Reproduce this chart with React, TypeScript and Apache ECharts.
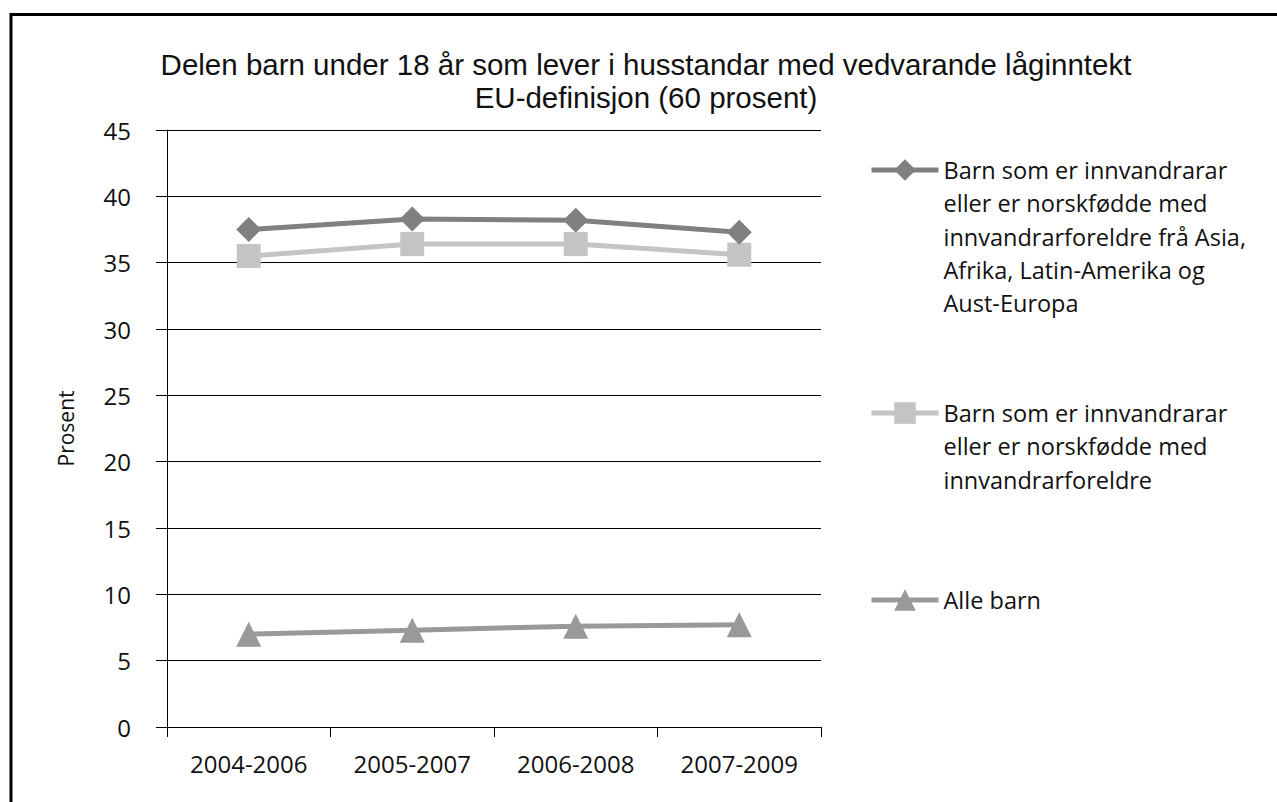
import React, { useEffect, useRef } from "react";
import * as echarts from "echarts";

const categories = ["2004-2006", "2005-2007", "2006-2008", "2007-2009"];
const seriesNames = [
  "Barn som er innvandrarar\neller er norskfødde med\ninnvandrarforeldre frå Asia,\nAfrika, Latin-Amerika og\nAust-Europa",
  "Barn som er innvandrarar\neller er norskfødde med\ninnvandrarforeldre",
  "Alle barn",
];
const asiaAfrikaValues = [37.5, 38.3, 38.2, 37.3];
const innvandrarValues = [35.5, 36.4, 36.4, 35.6];
const alleBarnValues = [7.0, 7.3, 7.6, 7.7];
const yTicks = [0, 5, 10, 15, 20, 25, 30, 35, 40, 45];

const FONT = "Open Sans";

export default function App() {
  const ref = useRef<HTMLDivElement>(null);
  useEffect(() => {
    if (!ref.current) return;
    const chart = echarts.init(ref.current, undefined, { renderer: "svg" });
    const lh = 33.3;
    const mkLegend = (name: string, firstLineY: number) => {
      const n = name.split("\n").length;
      const total = (2 * n - 1) * lh;
      return {
        data: [name],
        orient: "vertical",
        left: 869,
        top: firstLineY - total / 2,
        padding: 0,
        itemWidth: 67,
        itemHeight: 27,
        itemGap: 0,
        formatter: (nm: string) => "\n".repeat(nm.split("\n").length - 1) + nm,
        lineStyle: { width: 5 },
        textStyle: {
          fontFamily: FONT,
          fontSize: 23.5,
          color: "#111",
          lineHeight: lh,
        },
      };
    };
    chart.setOption({
      animation: false,
      backgroundColor: "#fff",
      title: {
        text: "Delen barn under 18 år som lever i husstandar med vedvarande låginntekt\nEU-definisjon (60 prosent)",
        left: 641,
        textAlign: "center",
        top: 43,
        textStyle: {
          fontFamily: "Liberation Sans",
          fontSize: 29.5,
          fontWeight: "normal",
          color: "#111",
          lineHeight: 33,
        },
      },
      legend: [
        mkLegend(seriesNames[0], 170),
        mkLegend(seriesNames[1], 413),
        mkLegend(seriesNames[2], 600),
      ],
      graphic: [
        {
          type: "rect",
          shape: { x: 11, y: 14.5, width: 1400, height: 1000 },
          style: { fill: "none", stroke: "#000", lineWidth: 3 },
          silent: true,
          z: 100,
        },
      ],
      grid: { left: 167, right: 456, top: 130, bottom: 75 },
      xAxis: {
        type: "category",
        data: categories,
        boundaryGap: true,
        axisLine: { lineStyle: { color: "#000", width: 1 } },
        axisTick: { show: true, length: 10, lineStyle: { color: "#000" } },
        axisLabel: { fontFamily: FONT, fontSize: 24, color: "#111", margin: 24 },
        splitLine: { show: false },
      },
      yAxis: {
        type: "value",
        min: yTicks[0],
        max: yTicks[yTicks.length - 1],
        interval: 5,
        name: "Prosent",
        nameLocation: "middle",
        nameGap: 91,
        nameRotate: 90,
        nameTextStyle: { fontFamily: FONT, fontSize: 21, color: "#111" },
        axisLine: { show: true, lineStyle: { color: "#000", width: 1 } },
        axisTick: { show: true, length: 11, lineStyle: { color: "#000" } },
        axisLabel: { fontFamily: FONT, fontSize: 24, color: "#111", margin: 36 },
        splitLine: { show: true, lineStyle: { color: "#000", width: 1 } },
      },
      series: [
        {
          name: seriesNames[0],
          type: "line",
          data: asiaAfrikaValues,
          symbol: "diamond",
          symbolSize: 25,
          lineStyle: { color: "#808080", width: 5 },
          itemStyle: { color: "#808080" },
          z: 3,
        },
        {
          name: seriesNames[1],
          type: "line",
          data: innvandrarValues,
          symbol: "rect",
          symbolSize: 24,
          lineStyle: { color: "#c4c4c4", width: 5 },
          itemStyle: { color: "#c4c4c4" },
          z: 2,
        },
        {
          name: seriesNames[2],
          type: "line",
          data: alleBarnValues,
          symbol: "triangle",
          symbolSize: 25,
          lineStyle: { color: "#999999", width: 5 },
          itemStyle: { color: "#999999" },
          z: 2,
        },
      ],
    });
    return () => chart.dispose();
  }, []);
  return (
    <div
      ref={ref}
      style={{ position: "absolute", left: 0, top: 0, width: 1277, height: 802 }}
    />
  );
}
